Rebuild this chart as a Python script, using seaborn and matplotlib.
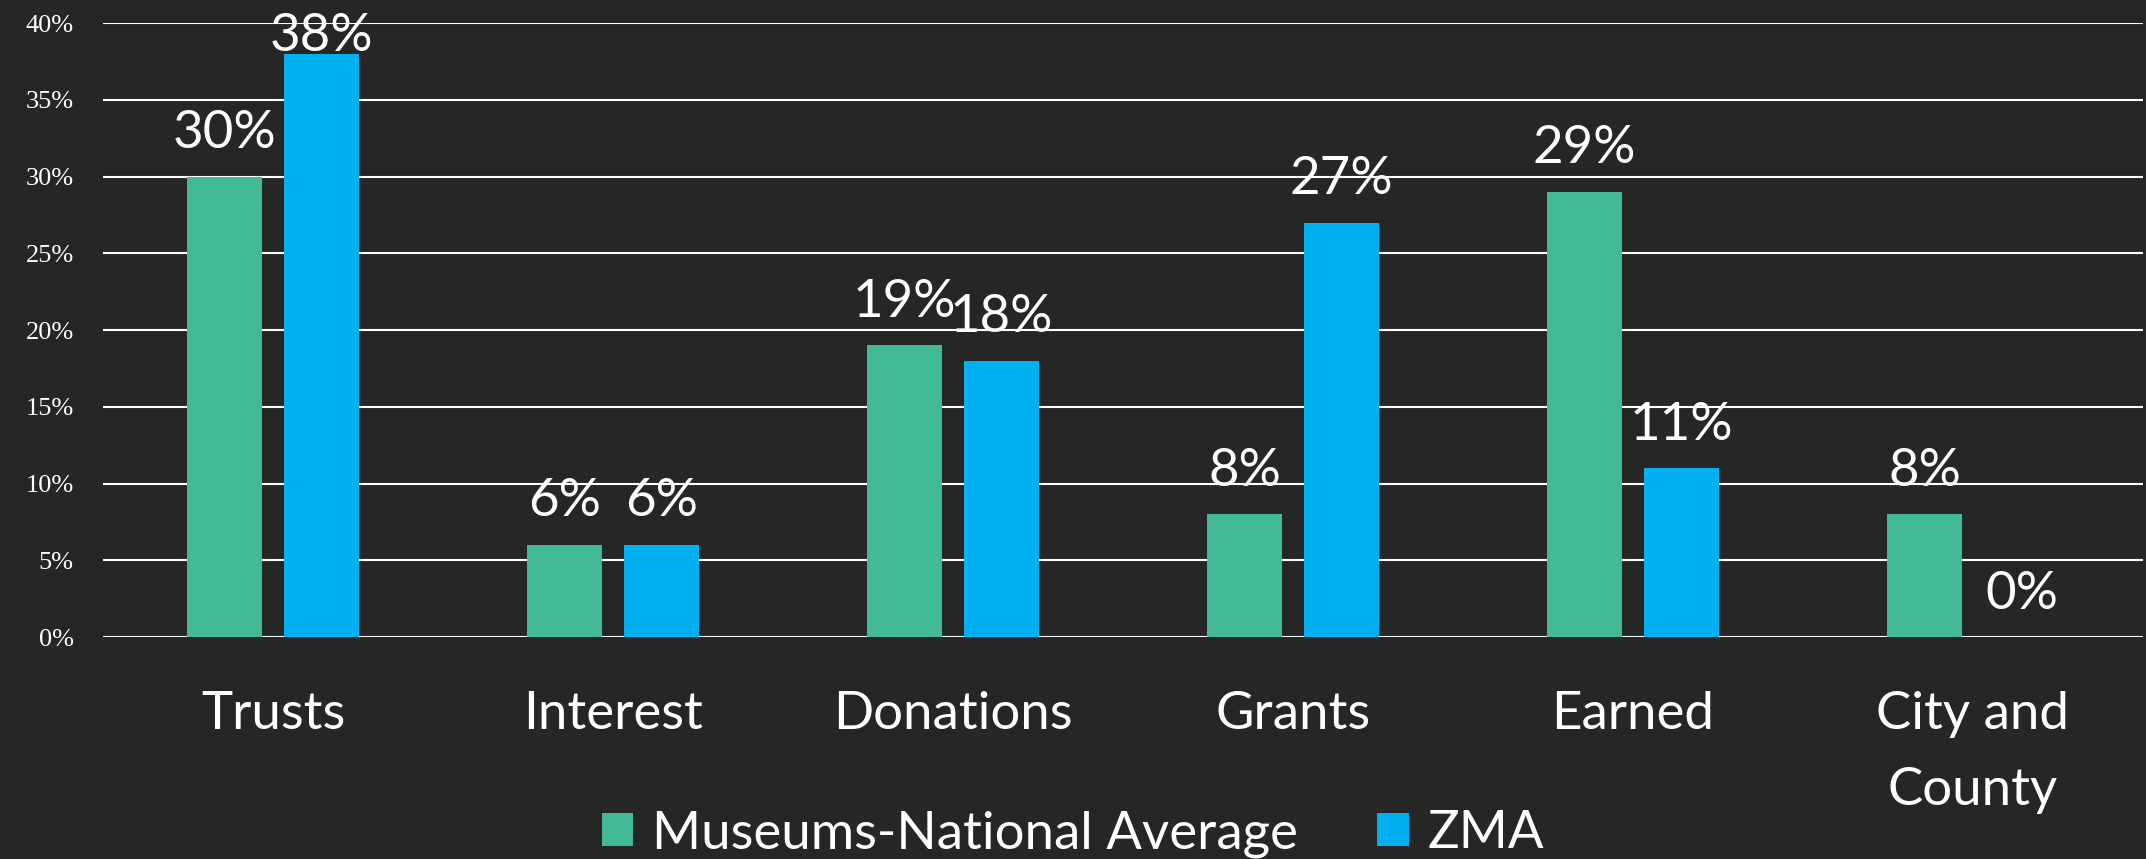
import matplotlib
matplotlib.use("Agg")
import matplotlib.pyplot as plt
import seaborn as sns
import pandas as pd

categories = ["Trusts", "Interest", "Donations", "Grants", "Earned", "City and\nCounty"]
national_avg = [30, 6, 19, 8, 29, 8]
zma = [38, 6, 18, 27, 11, 0]
series_names = ["Museums-National Average", "ZMA"]
y_ticks = [0, 5, 10, 15, 20, 25, 30, 35, 40]

BG = "#262626"
GREEN = "#43B997"
BLUE = "#00B0F0"

df = pd.DataFrame({
    "category": categories * 2,
    "value": national_avg + zma,
    "series": [series_names[0]] * len(categories) + [series_names[1]] * len(categories),
})

sns.set_theme(style="dark")
plt.rcParams["font.family"] = ["Lato", "DejaVu Sans"]
plt.rcParams["text.color"] = "white"

DPI = 100
fig = plt.figure(figsize=(21.46, 8.59), dpi=DPI, facecolor=BG)
ax = fig.add_axes([0.048, 0.2584, 0.9506, 0.7148])
ax.set_facecolor(BG)

sns.barplot(data=df, x="category", y="value", hue="series",
            palette=[GREEN, BLUE], width=0.57, gap=0.22,
            order=categories, hue_order=series_names, ax=ax,
            saturation=1, legend=True, zorder=3, linewidth=0, edgecolor="none")

labels_all = []
for cont in ax.containers:
    labels_all += ax.bar_label(cont, labels=[f"{v:.0f}%" for v in cont.datavalues],
                               padding=14, color="white", fontsize=38,
                               fontweight="normal", clip_on=False)

ax.set_ylim(0, 40)
ax.set_xlim(-0.5, len(categories) - 0.5)
ax.set_yticks(y_ticks)
ax.set_yticklabels([f"{t}%" for t in y_ticks], family="Liberation Serif",
                   fontsize=19, color="white")
ax.set_xticks(range(len(categories)))
ax.set_xticklabels(categories, fontsize=38, color="white")
for lab in ax.get_xticklabels():
    lab.set_linespacing(1.75)
ax.yaxis.grid(True, color="white", linewidth=1.5, zorder=0)
ax.xaxis.grid(False)
ax.tick_params(axis="y", length=0, pad=21)
ax.tick_params(axis="x", length=0, pad=39)
ax.set_xlabel("")
ax.set_ylabel("")
for s in ax.spines.values():
    s.set_visible(False)

# keep data labels inside the canvas (as the reference nudges the top label down)
fig.canvas.draw()
renderer = fig.canvas.get_renderer()
limit = fig.bbox.height - 13
for ann in labels_all:
    bb = ann.get_window_extent(renderer)
    if bb.y1 > limit:
        over_pt = (bb.y1 - limit) * 72.0 / DPI
        ann.xyann = (ann.xyann[0], ann.xyann[1] - over_pt)

handles, labels = ax.get_legend_handles_labels()
if ax.legend_:
    ax.legend_.remove()
leg = fig.legend(handles, labels, loc="center", bbox_to_anchor=(0.5, 1 - 834 / 859),
                 ncol=2, frameon=False, fontsize=38, handlelength=0.6,
                 handleheight=0.6, handletextpad=0.36, columnspacing=1.5,
                 borderaxespad=0, borderpad=0)
for t in leg.get_texts():
    t.set_color("white")

fig.savefig("out.png", dpi=DPI, facecolor=BG)
